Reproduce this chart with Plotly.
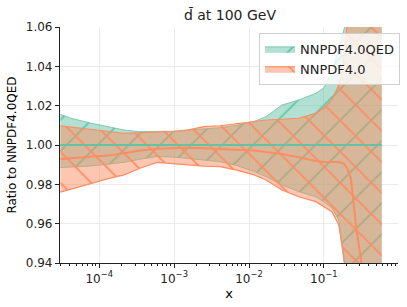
import plotly.graph_objects as go

# x grid (momentum fraction)
x = [3.02e-5, 4.1e-5, 7.6e-5, 1.28e-4, 2.15e-4, 3.5e-4, 5.9e-4, 1.0e-3, 1.49e-3,
     2.5e-3, 4.1e-3, 6.9e-3, 1.17e-2, 1.69e-2, 2.75e-2, 4.6e-2, 7.8e-2, 0.1,
     0.128, 0.158, 0.185, 0.203, 0.229, 0.251, 0.275, 0.311, 0.398, 0.593]

# NNPDF4.0QED (reference) band
qed_c = [1.0] * len(x)
qed_hi = [1.0156, 1.0137, 1.0112, 1.0093, 1.0076, 1.0068, 1.0068, 1.0070, 1.0076,
          1.0082, 1.0088, 1.0100, 1.0120, 1.0144, 1.0203, 1.0229, 1.0263, 1.0290,
          1.0371, 1.0493, 1.0584, 1.0660, 1.0800, 1.1000, 1.1200, 1.1500, 1.2000, 1.2500]
qed_lo = [0.9885, 0.9888, 0.9893, 0.9902, 0.9912, 0.9928, 0.9941, 0.9938, 0.9932,
          0.9924, 0.9915, 0.9895, 0.9865, 0.9839, 0.9797, 0.9763, 0.9737, 0.9710,
          0.9680, 0.9620, 0.9440, 0.9340, 0.9200, 0.9000, 0.8800, 0.8500, 0.8000, 0.7500]

# NNPDF4.0 band
nn_c = [0.9929, 0.9932, 0.9938, 0.9946, 0.9958, 0.9972, 0.9981, 0.9984, 0.9986,
        0.9983, 0.9978, 0.9976, 0.9972, 0.9965, 0.9954, 0.9938, 0.9919, 0.9914,
        0.9912, 0.9913, 0.9905, 0.9885, 0.9832, 0.9695, 0.9558, 0.9426, 0.8700, 0.8000]
nn_hi = [1.0097, 1.0092, 1.0081, 1.0070, 1.0059, 1.0062, 1.0066, 1.0070, 1.0076,
         1.0093, 1.0098, 1.0110, 1.0119, 1.0127, 1.0131, 1.0136, 1.0161, 1.0188,
         1.0229, 1.0305, 1.0442, 1.0584, 1.0800, 1.1000, 1.1200, 1.1500, 1.2000, 1.2500]
nn_lo = [0.9760, 0.9775, 0.9805, 0.9828, 0.9848, 0.9882, 0.9912, 0.9905, 0.9898,
         0.9893, 0.9890, 0.9872, 0.9848, 0.9822, 0.9771, 0.9737, 0.9712, 0.9685,
         0.9661, 0.9594, 0.9441, 0.9375, 0.9200, 0.9000, 0.8800, 0.8500, 0.8000, 0.7500]

x_tickvals = [1e-4, 1e-3, 1e-2, 1e-1]
x_ticktext = ["10<sup>−4</sup>", "10<sup>−3</sup>", "10<sup>−2</sup>", "10<sup>−1</sup>"]
x_minor_ticks = [m * 10.0 ** e for e in range(-5, 0) for m in range(2, 10)]
y_tickvals = [0.94, 0.96, 0.98, 1.00, 1.02, 1.04, 1.06]

GREEN = "rgb(102,194,165)"
ORANGE = "rgb(252,141,98)"
FONT = "DejaVu Sans"

fig = go.Figure()

# QED band
fig.add_trace(go.Scatter(x=x, y=qed_lo, mode="lines",
                         line=dict(color="rgba(102,194,165,0.8)", width=1),
                         showlegend=False, hoverinfo="skip"))
fig.add_trace(go.Scatter(x=x, y=qed_hi, mode="lines", name="NNPDF4.0QED",
                         line=dict(color="rgba(102,194,165,0.8)", width=1),
                         fill="tonexty", fillcolor="rgba(102,194,165,0.5)",
                         fillpattern=dict(shape="/", size=22, solidity=0.08,
                                          fgcolor=GREEN, bgcolor="rgba(102,194,165,0.5)",
                                          fillmode="replace")))
# NNPDF4.0 band
fig.add_trace(go.Scatter(x=x, y=nn_lo, mode="lines",
                         line=dict(color=ORANGE, width=1.2),
                         showlegend=False, hoverinfo="skip"))
fig.add_trace(go.Scatter(x=x, y=nn_hi, mode="lines", name="NNPDF4.0",
                         line=dict(color=ORANGE, width=1.2),
                         fill="tonexty", fillcolor="rgba(252,141,98,0.5)",
                         fillpattern=dict(shape="\\", size=22, solidity=0.08,
                                          fgcolor=ORANGE, bgcolor="rgba(252,141,98,0.5)",
                                          fillmode="replace")))
# central lines
fig.add_trace(go.Scatter(x=x, y=qed_c, mode="lines", line=dict(color=GREEN, width=2),
                         showlegend=False))
fig.add_trace(go.Scatter(x=x, y=nn_c, mode="lines", line=dict(color=ORANGE, width=2),
                         showlegend=False))

fig.update_layout(
    width=407, height=307,
    margin=dict(l=60, r=8, t=27, b=44),
    paper_bgcolor="white", plot_bgcolor="white",
    font=dict(family=FONT, size=12, color="black"),
    title=dict(text="d\u0304 at 100 GeV", x=0.565, xanchor="center", y=0.95, yanchor="middle",
               font=dict(family=FONT, size=14, color="#222")),
    legend=dict(x=1.003, xanchor="right", y=0.975, yanchor="top",
                bgcolor="rgba(255,255,255,0.8)", bordercolor="#d0d0d0", borderwidth=1,
                font=dict(family=FONT, size=13, color="#222"),
                itemwidth=30, tracegroupgap=0, traceorder="normal"),
    showlegend=True,
)
fig.update_xaxes(type="log", range=[-4.525, -0.01], automargin=False,
                 tickvals=x_tickvals, ticktext=x_ticktext,
                 ticks="outside", ticklen=4, tickcolor="#222",
                 showline=True, linecolor="#222", linewidth=1.2,
                 showgrid=True, gridcolor="#ebebeb", gridwidth=1, zeroline=False,
                 minor=dict(tickvals=x_minor_ticks, ticks="outside", ticklen=2,
                            tickcolor="#222", showgrid=False),
                 title=dict(text="x", font=dict(family=FONT, size=13), standoff=4),
                 tickfont=dict(family=FONT, size=12, color="#222"))
fig.update_yaxes(range=[0.94, 1.06], tickvals=y_tickvals, automargin=False,
                 tickformat=".2f",
                 ticks="outside", ticklen=4, tickcolor="#222",
                 showline=True, linecolor="#222", linewidth=1.2,
                 showgrid=True, gridcolor="#ebebeb", gridwidth=1, zeroline=False,
                 title=dict(text="Ratio to NNPDF4.0QED", font=dict(family=FONT, size=12), standoff=6),
                 tickfont=dict(family=FONT, size=12, color="#222"))

fig.write_html("out.html", config={"displayModeBar": False},
               post_script="document.body.style.margin='0';")
